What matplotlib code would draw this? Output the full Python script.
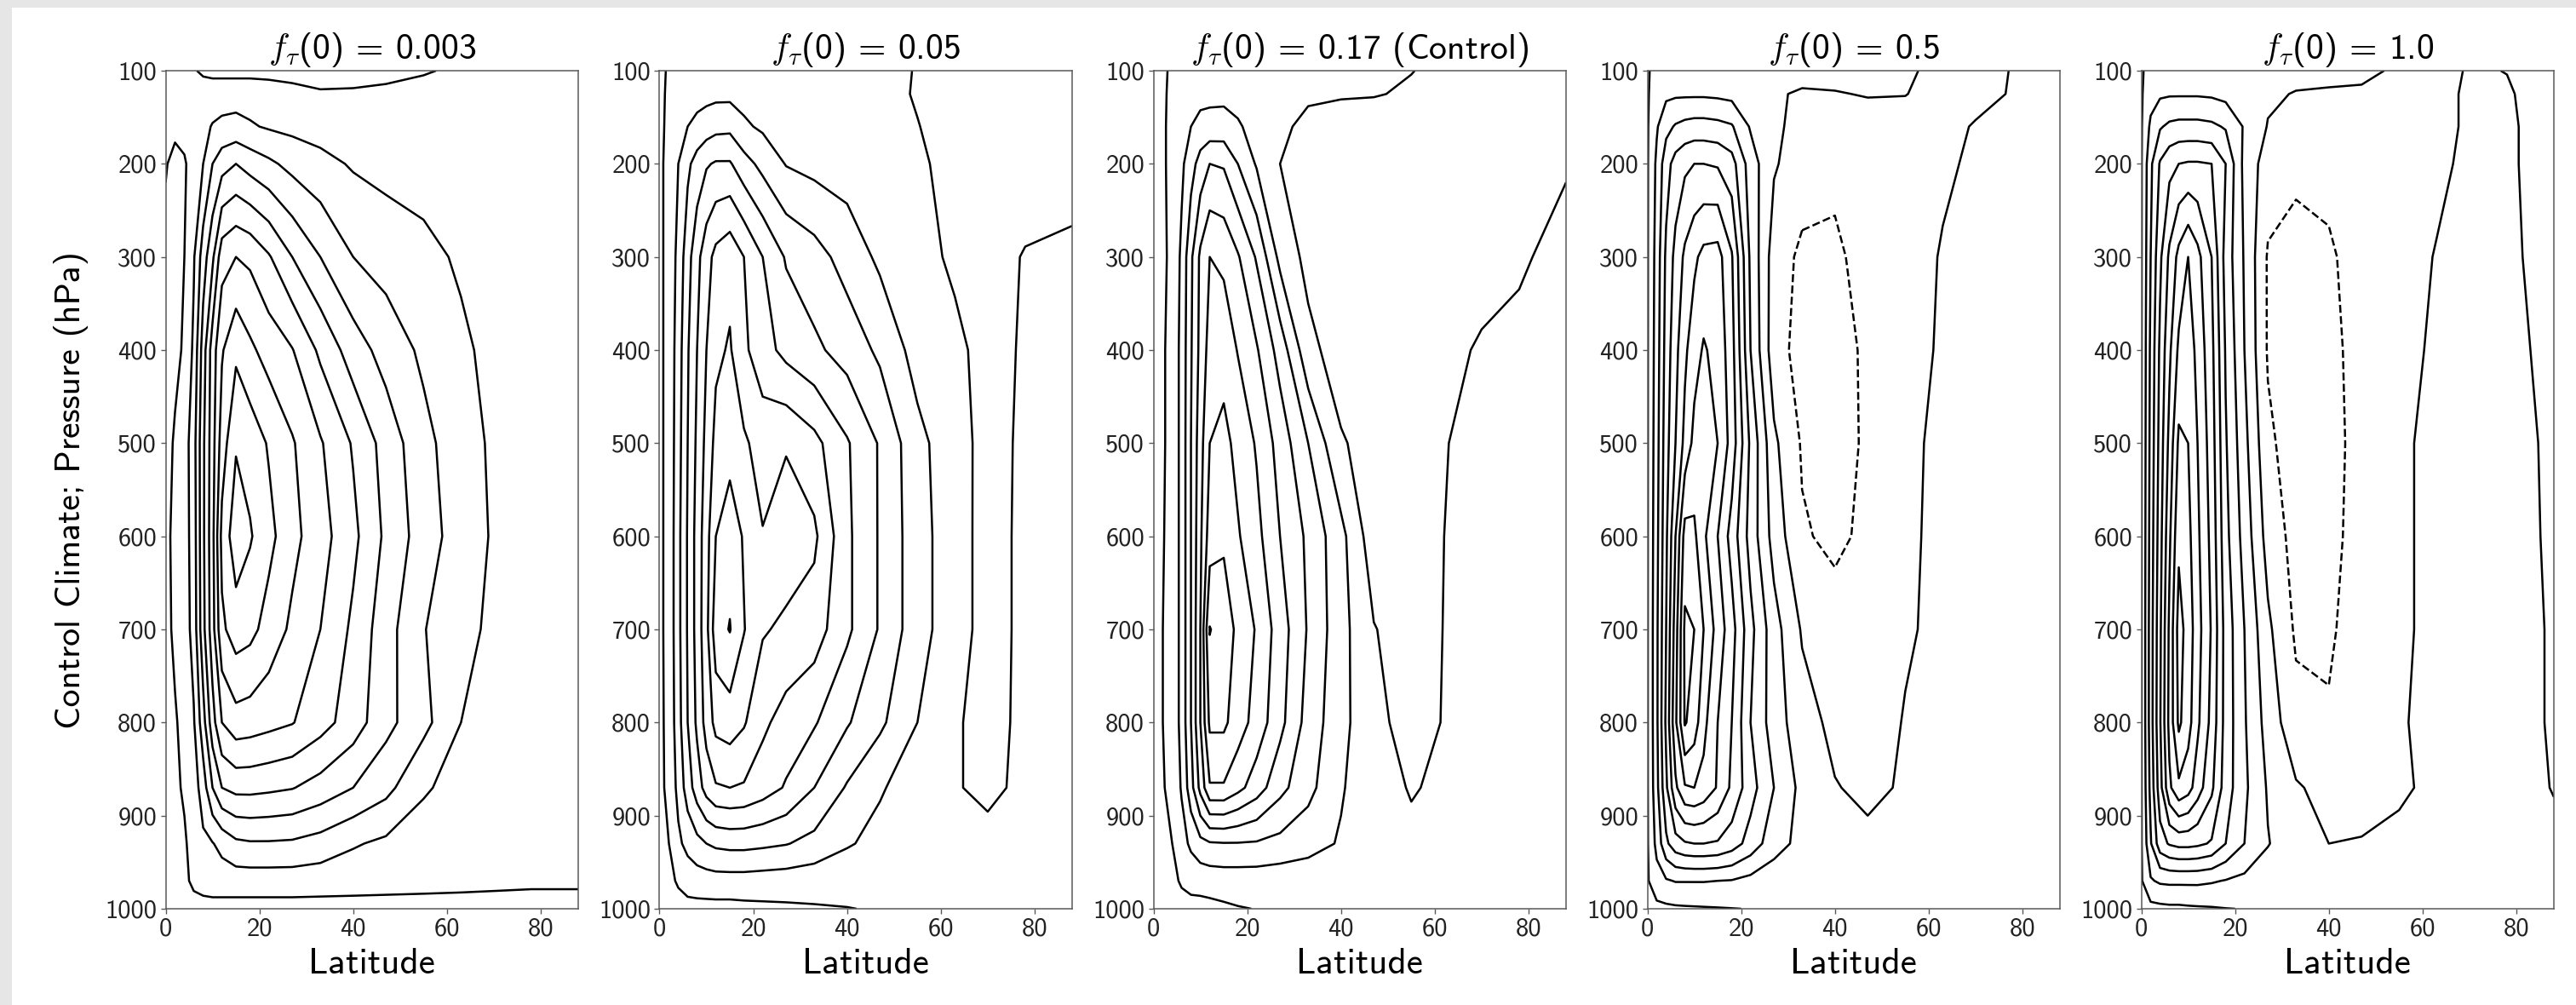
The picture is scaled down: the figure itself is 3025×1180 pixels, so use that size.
import numpy as np
import matplotlib.pyplot as plt
from matplotlib.patches import Rectangle

# grid of the streamfunction tables (latitude columns, pressure rows)
LAT = [0, 2, 4, 6, 8, 10, 12, 15, 18, 22, 27, 33, 40, 47, 55, 63, 70, 78, 88]
PRES = [100, 125, 160, 200, 300, 400, 500, 600, 700, 800, 870, 930, 970, 1000]

# streamfunction, in units of the contour interval
PSI_0003 = [
    [0.3, 0.3, 0.2, 0.1, -0.2, -0.3, -0.3, -0.3, -0.3, -0.35, -0.4, -0.4, -0.3, -0.2, -0.05, 0.1, 0.15, 0.15, 0.15],
    [0.2, 0.3, 0.4, 0.5, 0.6, 0.6, 0.6, 0.6, 0.6, 0.55, 0.35, 0.1, 0.1, 0.15, 0.2, 0.2, 0.2, 0.2, 0.2],
    [0.1, 0.15, 0.3, 0.55, 0.8, 1.05, 1.2, 1.3, 1.1, 0.9, 0.75, 0.6, 0.5, 0.45, 0.4, 0.35, 0.3, 0.25, 0.2],
    [0.05, -0.2, -0.1, 0.4, 1.0, 2.0, 2.6, 3.0, 2.6, 2.2, 1.7, 1.3, 0.9, 0.7, 0.55, 0.45, 0.4, 0.3, 0.25],
    [-0.2, -0.15, 0.0, 0.9, 2.5, 3.8, 5.6, 6.0, 5.8, 5.1, 4.0, 3.0, 2.0, 1.6, 1.3, 0.85, 0.55, 0.4, 0.3],
    [-0.3, -0.2, 0.1, 1.2, 3.5, 5.5, 6.9, 7.8, 7.2, 6.6, 6.05, 4.8, 3.5, 2.6, 1.8, 1.2, 0.7, 0.5, 0.35],
    [-0.3, 0.1, 0.5, 1.6, 3.8, 5.6, 7.5, 8.9, 8.6, 7.9, 7.1, 6.1, 4.9, 3.6, 2.3, 1.4, 0.85, 0.5, 0.35],
    [-0.3, 0.3, 0.5, 1.5, 3.8, 5.7, 8.3, 9.6, 9.1, 8.3, 7.3, 6.4, 5.25, 3.8, 2.5, 1.5, 0.9, 0.5, 0.3],
    [-0.3, 0.2, 0.45, 1.4, 3.7, 5.6, 7.8, 8.5, 8.3, 7.6, 6.8, 6.0, 4.8, 3.4, 2.05, 1.3, 0.8, 0.45, 0.3],
    [-0.2, -0.1, 0.3, 0.9, 2.6, 4.6, 6.0, 6.6, 6.5, 6.3, 6.05, 5.4, 4.5, 3.3, 2.3, 1.0, 0.7, 0.45, 0.3],
    [-0.2, -0.15, 0.1, 0.5, 1.5, 3.0, 4.0, 4.3, 4.3, 4.2, 4.05, 3.6, 3.0, 2.3, 1.1, 0.7, 0.5, 0.35, 0.25],
    [-0.25, -0.2, -0.1, 0.3, 0.8, 0.95, 1.3, 1.8, 1.9, 1.9, 1.85, 1.6, 1.1, 0.8, 0.6, 0.45, 0.35, 0.3, 0.2],
    [-0.3, -0.3, -0.2, 0.2, 0.4, 0.5, 0.5, 0.5, 0.5, 0.5, 0.5, 0.45, 0.4, 0.35, 0.3, 0.25, 0.2, 0.15, 0.15],
    [-0.35, -0.35, -0.35, -0.35, -0.35, -0.35, -0.35, -0.35, -0.35, -0.35, -0.35, -0.35, -0.35, -0.35, -0.35, -0.35, -0.35, -0.35, -0.35],
]

PSI_005 = [
    [-0.2, 0.1, 0.2, 0.25, 0.3, 0.35, 0.4, 0.4, 0.4, 0.35, 0.3, 0.25, 0.2, 0.12, -0.02, -0.2, -0.3, -0.3, -0.3],
    [-0.2, 0.15, 0.35, 0.5, 0.6, 0.7, 0.75, 0.75, 0.7, 0.6, 0.5, 0.4, 0.3, 0.2, -0.05, -0.25, -0.35, -0.35, -0.35],
    [-0.2, 0.2, 0.6, 1.0, 1.3, 1.5, 1.7, 1.75, 1.15, 0.85, 0.7, 0.55, 0.4, 0.25, 0.02, -0.25, -0.4, -0.4, -0.4],
    [-0.2, 0.3, 1.0, 1.8, 2.4, 2.9, 3.1, 3.1, 2.4, 1.7, 0.95, 0.7, 0.55, 0.35, 0.1, -0.2, -0.4, -0.4, -0.4],
    [-0.2, 0.3, 1.3, 2.6, 3.7, 4.6, 5.3, 5.7, 5.0, 4.0, 2.9, 2.4, 1.6, 0.8, 0.3, -0.15, -0.3, 0.05, 0.2],
    [-0.2, 0.3, 1.5, 2.9, 4.0, 5.0, 5.8, 6.1, 5.2, 4.4, 3.7, 3.2, 2.6, 1.8, 0.6, 0.2, -0.3, 0.1, 0.25],
    [-0.2, 0.3, 1.6, 3.0, 4.2, 5.3, 6.3, 6.6, 6.15, 5.6, 5.9, 5.3, 4.1, 2.9, 1.3, 0.35, -0.3, 0.15, 0.3],
    [-0.2, 0.3, 1.7, 3.1, 4.4, 5.6, 7.0, 7.6, 6.9, 6.05, 6.6, 6.2, 4.2, 2.9, 1.4, 0.4, -0.35, 0.2, 0.35],
    [-0.2, 0.3, 1.7, 3.1, 4.4, 5.7, 7.6, 8.05, 7.05, 6.1, 5.8, 5.5, 4.2, 2.9, 1.4, 0.4, -0.35, 0.2, 0.35],
    [-0.2, 0.25, 1.6, 3.0, 4.2, 5.4, 6.3, 6.5, 6.1, 5.2, 4.6, 4.1, 3.1, 2.2, 1.0, 0.1, -0.3, 0.2, 0.35],
    [-0.2, 0.2, 1.3, 2.5, 3.5, 4.4, 4.9, 5.0, 4.9, 4.5, 3.9, 3.0, 1.9, 1.1, 0.5, 0.05, -0.15, 0.15, 0.3],
    [-0.2, 0.0, 0.8, 1.3, 1.7, 2.0, 2.2, 2.3, 2.3, 2.2, 2.05, 1.7, 1.1, 0.7, 0.4, 0.25, 0.2, 0.25, 0.3],
    [-0.25, -0.2, 0.1, 0.4, 0.5, 0.55, 0.6, 0.6, 0.6, 0.55, 0.5, 0.4, 0.3, 0.25, 0.2, 0.15, 0.15, 0.15, 0.15],
    [-0.3, -0.3, -0.3, -0.3, -0.3, -0.3, -0.3, -0.3, -0.25, -0.2, -0.15, -0.08, -0.02, 0.05, 0.05, 0.05, 0.05, 0.05, 0.05],
]

PSI_017 = [
    [-0.2, -0.1, 0.1, 0.25, 0.35, 0.45, 0.5, 0.5, 0.45, 0.4, 0.35, 0.25, 0.2, 0.15, 0.02, -0.2, -0.3, -0.35, -0.35],
    [-0.2, -0.1, 0.15, 0.4, 0.6, 0.7, 0.75, 0.75, 0.7, 0.6, 0.4, 0.15, 0.08, 0.05, -0.1, -0.3, -0.4, -0.45, -0.45],
    [-0.2, -0.1, 0.2, 0.6, 1.0, 1.3, 1.35, 1.4, 1.1, 0.7, 0.2, -0.25, -0.4, -0.45, -0.45, -0.5, -0.5, -0.5, -0.5],
    [-0.2, -0.1, 0.2, 0.8, 1.6, 2.4, 3.0, 2.9, 2.0, 0.9, 0.0, -0.4, -0.55, -0.6, -0.6, -0.6, -0.55, -0.45, -0.05],
    [-0.3, -0.15, 0.2, 1.2, 2.8, 4.2, 5.0, 4.8, 4.1, 2.9, 0.7, -0.3, -0.6, -0.65, -0.6, -0.5, -0.35, -0.08, 0.2],
    [-0.3, -0.1, 0.3, 1.3, 2.9, 4.3, 5.4, 5.6, 4.95, 4.1, 2.6, 0.3, -0.5, -0.6, -0.5, -0.2, 0.1, 0.15, 0.2],
    [-0.3, -0.1, 0.3, 1.3, 3.0, 4.6, 6.0, 6.3, 5.7, 4.9, 3.6, 2.0, 0.1, -0.4, -0.35, 0.0, 0.25, 0.3, 0.3],
    [-0.3, -0.05, 0.3, 1.3, 3.0, 4.8, 6.5, 6.85, 6.1, 5.3, 4.0, 2.8, 1.3, -0.6, -0.35, 0.05, 0.3, 0.35, 0.3],
    [-0.3, 0.0, 0.3, 1.3, 3.0, 5.0, 8.05, 7.5, 6.8, 5.9, 4.5, 2.9, 1.35, 0.05, -0.5, 0.1, 0.3, 0.35, 0.3],
    [-0.3, 0.0, 0.3, 1.3, 3.0, 5.0, 7.2, 7.2, 6.5, 5.6, 4.3, 2.6, 1.3, 0.25, -0.35, 0.1, 0.3, 0.35, 0.3],
    [-0.3, -0.05, 0.2, 1.1, 2.6, 4.3, 5.9, 5.9, 5.3, 4.5, 3.3, 2.3, 1.1, 0.3, -0.05, 0.15, 0.25, 0.3, 0.3],
    [-0.3, -0.2, 0.0, 0.6, 1.2, 1.7, 1.9, 1.95, 1.95, 1.9, 1.7, 1.4, 0.9, 0.3, 0.15, 0.15, 0.15, 0.2, 0.2],
    [-0.3, -0.3, -0.2, 0.1, 0.3, 0.35, 0.4, 0.45, 0.45, 0.45, 0.4, 0.35, 0.3, 0.2, 0.15, 0.15, 0.15, 0.15, 0.15],
    [-0.3, -0.3, -0.3, -0.3, -0.3, -0.3, -0.25, -0.15, -0.05, 0.02, 0.05, 0.05, 0.05, 0.05, 0.05, 0.05, 0.05, 0.05, 0.05],
]

PSI_05 = [
    [-0.1, 0.3, 0.45, 0.5, 0.5, 0.5, 0.5, 0.45, 0.4, 0.35, 0.3, 0.3, 0.3, 0.2, 0.08, -0.15, -0.15, 0.02, 0.1],
    [-0.1, 0.5, 0.8, 0.85, 0.85, 0.85, 0.85, 0.8, 0.7, 0.5, 0.1, -0.1, -0.05, 0.05, 0.02, -0.25, -0.2, 0.05, 0.15],
    [-0.1, 0.9, 1.7, 2.1, 2.3, 2.4, 2.4, 2.3, 2.1, 0.9, 0.2, -0.35, -0.45, -0.4, -0.3, -0.2, 0.05, 0.15, 0.2],
    [-0.1, 1.2, 2.6, 3.4, 3.8, 4.0, 4.0, 3.9, 3.4, 1.5, 0.1, -0.5, -0.75, -0.6, -0.35, -0.1, 0.1, 0.15, 0.2],
    [-0.1, 1.4, 3.2, 4.3, 5.2, 5.8, 6.3, 6.4, 5.1, 1.8, -0.5, -1.2, -1.2, -0.6, -0.3, 0.05, 0.2, 0.2, 0.2],
    [-0.1, 1.5, 3.4, 4.7, 5.8, 6.6, 7.1, 6.7, 5.4, 2.0, -0.6, -1.35, -1.45, -0.8, -0.3, 0.1, 0.2, 0.2, 0.2],
    [-0.1, 1.6, 3.6, 5.0, 6.3, 7.3, 7.6, 7.0, 5.6, 2.8, 0.2, -1.1, -1.4, -0.85, -0.2, 0.2, 0.25, 0.25, 0.2],
    [-0.1, 1.7, 3.8, 6.0, 8.4, 8.2, 7.2, 6.0, 4.6, 2.6, 0.6, -0.9, -1.2, -0.8, -0.15, 0.2, 0.25, 0.25, 0.2],
    [-0.1, 1.8, 4.0, 6.5, 9.2, 9.0, 8.0, 6.6, 5.4, 3.3, 1.4, -0.1, -0.6, -0.55, -0.1, 0.2, 0.25, 0.25, 0.2],
    [-0.1, 1.8, 4.2, 6.8, 9.1, 8.5, 7.3, 6.0, 5.0, 3.0, 1.5, 0.4, -0.25, -0.4, 0.05, 0.2, 0.25, 0.25, 0.2],
    [-0.1, 1.7, 3.8, 5.8, 6.9, 7.0, 6.7, 5.9, 4.8, 3.4, 2.0, 0.7, 0.05, -0.2, 0.1, 0.2, 0.25, 0.25, 0.2],
    [-0.1, 1.3, 2.8, 3.6, 3.9, 4.0, 4.0, 3.9, 3.5, 2.6, 1.4, 0.7, 0.3, 0.2, 0.2, 0.2, 0.2, 0.2, 0.2],
    [-0.1, 0.6, 0.9, 1.05, 1.05, 1.05, 1.05, 1.0, 0.95, 0.7, 0.45, 0.3, 0.2, 0.15, 0.15, 0.15, 0.15, 0.15, 0.15],
    [-0.3, -0.25, -0.2, -0.15, -0.12, -0.1, -0.08, -0.05, -0.02, 0.02, 0.05, 0.05, 0.05, 0.05, 0.05, 0.05, 0.05, 0.05, 0.05],
]

PSI_10 = [
    [-0.1, 0.3, 0.45, 0.5, 0.5, 0.5, 0.5, 0.45, 0.4, 0.35, 0.3, 0.3, 0.25, 0.15, -0.1, -0.2, 0.05, -0.01, -0.2],
    [-0.1, 0.6, 0.85, 0.9, 0.9, 0.9, 0.9, 0.85, 0.7, 0.5, 0.15, -0.05, -0.1, -0.1, -0.3, -0.2, 0.1, 0.05, -0.25],
    [-0.1, 1.2, 1.9, 2.2, 2.3, 2.3, 2.3, 2.2, 1.9, 0.9, -0.05, -0.2, -0.3, -0.35, -0.45, -0.3, 0.15, 0.1, -0.3],
    [-0.1, 1.8, 3.1, 3.7, 4.0, 4.1, 4.1, 4.0, 3.0, 0.7, -0.5, -0.75, -0.8, -0.6, -0.4, -0.2, 0.2, 0.1, -0.3],
    [-0.1, 2.0, 3.8, 5.2, 6.3, 7.0, 6.3, 5.0, 2.6, 0.9, -1.1, -1.4, -1.1, -0.7, -0.4, 0.05, 0.2, 0.1, -0.2],
    [-0.1, 2.2, 4.2, 5.8, 7.2, 7.6, 6.7, 5.3, 2.9, 1.0, -1.1, -1.6, -1.3, -0.6, -0.2, 0.1, 0.2, 0.15, -0.15],
    [-0.1, 2.3, 4.4, 6.3, 8.2, 8.0, 7.0, 5.5, 3.1, 1.3, -0.8, -1.5, -1.4, -0.6, -0.1, 0.15, 0.2, 0.2, -0.1],
    [-0.1, 2.4, 4.6, 6.8, 8.8, 8.3, 7.2, 5.7, 3.3, 1.6, -0.4, -1.35, -1.3, -0.6, -0.1, 0.15, 0.2, 0.2, -0.08],
    [-0.1, 2.5, 4.8, 7.2, 9.4, 8.6, 7.4, 5.9, 3.6, 2.0, 0.2, -1.15, -1.15, -0.5, -0.1, 0.15, 0.2, 0.2, -0.05],
    [-0.1, 2.5, 4.9, 7.3, 9.2, 8.4, 7.2, 5.7, 3.6, 2.1, 0.6, -0.7, -0.9, -0.45, -0.05, 0.15, 0.2, 0.2, -0.05],
    [-0.1, 2.3, 4.6, 6.8, 7.8, 7.4, 6.5, 5.2, 3.5, 2.2, 0.9, 0.1, -0.3, -0.35, -0.1, 0.15, 0.2, 0.2, -0.02],
    [-0.1, 1.9, 3.6, 4.1, 4.3, 4.3, 4.2, 3.9, 3.0, 2.0, 1.05, 0.4, 0.0, 0.05, 0.15, 0.2, 0.2, 0.2, 0.1],
    [-0.1, 0.9, 1.15, 1.2, 1.2, 1.2, 1.2, 1.1, 0.95, 0.75, 0.5, 0.3, 0.2, 0.15, 0.15, 0.15, 0.15, 0.15, 0.1],
    [-0.3, -0.3, -0.25, -0.2, -0.2, -0.15, -0.12, -0.08, -0.02, 0.02, 0.05, 0.05, 0.05, 0.05, 0.05, 0.05, 0.05, 0.05, 0.05],
]

FIELDS = [PSI_0003, PSI_005, PSI_017, PSI_05, PSI_10]
TITLES = ['0.003', '0.05', '0.17 (Control)', '0.5', '1.0']
LEVELS = [-1, 0, 1, 2, 3, 4, 5, 6, 7, 8, 9]
XTICKS = [0, 20, 40, 60, 80]
YTICKS = [100, 200, 300, 400, 500, 600, 700, 800, 900, 1000]

plt.rcParams['font.family'] = 'cmss10'
plt.rcParams['mathtext.fontset'] = 'cm'
plt.rcParams['axes.unicode_minus'] = False
plt.rcParams['contour.negative_linestyle'] = 'dashed'

W, H = 3025, 1180
fig = plt.figure(figsize=(W / 100, H / 100), dpi=100, facecolor='#e6e6e6')
# white page with the grey strips on the left and top
fig.add_artist(Rectangle((14 / W, 0), 1, 1 - 9 / H, transform=fig.transFigure,
                         facecolor='white', edgecolor='none', zorder=-5))

for i, (psi, title) in enumerate(zip(FIELDS, TITLES)):
    left = 194.5 + 580 * i
    ax = fig.add_axes([left / W, (H - 1067) / H, 484.5 / W, 984 / H])
    ax.contour(LAT, PRES, np.array(psi), levels=LEVELS, colors='k', linewidths=1.8)
    ax.set_xlim(0, 88)
    ax.set_ylim(1000, 100)
    ax.set_xticks(XTICKS)
    ax.set_yticks(YTICKS)
    ax.tick_params(labelsize=22, length=4, width=1, color='0.35', labelcolor='#222222')
    for s in ax.spines.values():
        s.set_color('0.35')
        s.set_linewidth(1.1)
    ax.set_title(r'$f_\tau$(0) = ' + title, fontsize=30, pad=10)
    ax.set_xlabel('Latitude', fontsize=31, labelpad=6)
    if i == 0:
        ax.set_ylabel('Control Climate; Pressure (hPa)', fontsize=30, labelpad=14)

fig.savefig('out.png', dpi=100, facecolor=fig.get_facecolor())
